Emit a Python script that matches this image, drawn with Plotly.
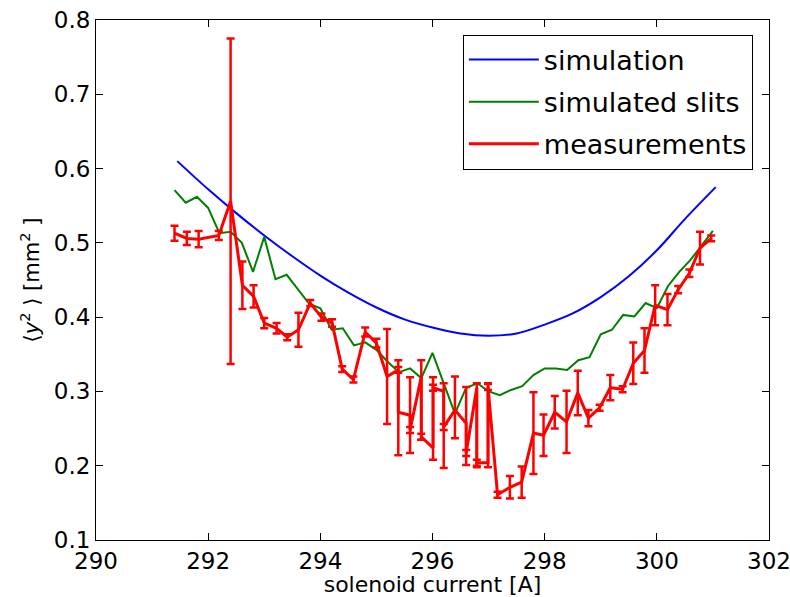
import plotly.graph_objects as go

# simulation curve
sim_x = [291.45, 292.0, 292.5, 293.0, 293.5, 294.0, 294.5, 295.0, 295.5, 296.0,
         296.5, 297.0, 297.5, 298.0, 298.5, 299.0, 299.5, 300.0, 300.5, 301.05]
sim_y = [0.610, 0.572, 0.540, 0.510, 0.482, 0.456, 0.433, 0.413, 0.397, 0.386,
         0.378, 0.375, 0.378, 0.390, 0.405, 0.427, 0.455, 0.490, 0.532, 0.575]

# simulated slits
slit_x = [291.4, 291.6, 291.8, 292.0, 292.2, 292.4, 292.6, 292.8, 293.0, 293.2,
          293.4, 293.6, 293.8, 294.0, 294.2, 294.4, 294.6, 294.8, 295.0, 295.2,
          295.4, 295.6, 295.8, 296.0, 296.2, 296.4, 296.6, 296.8, 297.0, 297.2,
          297.4, 297.6, 297.8, 298.0, 298.2, 298.4, 298.6, 298.8, 299.0, 299.2,
          299.4, 299.6, 299.8, 300.0, 300.2, 300.4, 300.6, 300.8, 301.0]
slit_y = [0.571, 0.554, 0.562, 0.547, 0.513, 0.515, 0.500, 0.461, 0.508, 0.451,
          0.457, 0.438, 0.418, 0.412, 0.383, 0.385, 0.362, 0.366, 0.356, 0.340,
          0.326, 0.331, 0.318, 0.352, 0.311, 0.270, 0.305, 0.311, 0.300, 0.295,
          0.302, 0.307, 0.322, 0.331, 0.331, 0.329, 0.342, 0.346, 0.377, 0.383,
          0.403, 0.401, 0.419, 0.412, 0.442, 0.461, 0.477, 0.497, 0.516]

# measurements
meas_x = [291.40, 291.62, 291.83, 292.19, 292.40, 292.61, 292.81, 293.00, 293.22, 293.41,
          293.61, 293.82, 294.02, 294.21, 294.39, 294.59, 294.80, 295.00, 295.19, 295.39,
          295.39, 295.60, 295.60, 295.80, 295.80, 296.01, 296.01, 296.20, 296.20, 296.40,
          296.60, 296.60, 296.79, 296.79, 296.99, 296.99, 297.16, 297.38, 297.59, 297.80,
          297.98, 298.18, 298.39, 298.59, 298.78, 298.98, 299.17, 299.39, 299.58, 299.78,
          299.97, 300.19, 300.38, 300.58, 300.77, 300.97]
meas_y = [0.513, 0.506, 0.505, 0.510, 0.556, 0.443, 0.428, 0.392, 0.385, 0.373,
          0.383, 0.419, 0.400, 0.392, 0.330, 0.316, 0.380, 0.365, 0.320, 0.329,
          0.272, 0.268, 0.248, 0.320, 0.239, 0.224, 0.305, 0.300, 0.252, 0.275,
          0.257, 0.217, 0.305, 0.204, 0.204, 0.306, 0.161, 0.171, 0.178, 0.244,
          0.241, 0.272, 0.259, 0.298, 0.264, 0.278, 0.305, 0.303, 0.338, 0.355,
          0.416, 0.410, 0.437, 0.459, 0.493, 0.506]
meas_err_hi = [0.010, 0.009, 0.011, 0.006, 0.219, 0.032, 0.015, 0.007, 0.007, 0.004,
               0.023, 0.004, 0.005, 0.005, 0.004, 0.004, 0.006, 0.006, 0.064, 0.004,
               0.070, 0.051, 0.004, 0.022, 0.004, 0.095, 0.004, 0.011, 0.004, 0.045,
               0.049, 0.004, 0.006, 0.004, 0.107, 0.004, 0.004, 0.015, 0.021, 0.055,
               0.028, 0.022, 0.042, 0.030, 0.011, 0.004, 0.017, 0.004, 0.028, 0.030,
               0.027, 0.021, 0.005, 0.005, 0.022, 0.004]
meas_err_lo = [0.010, 0.009, 0.011, 0.006, 0.219, 0.032, 0.015, 0.007, 0.007, 0.004,
               0.023, 0.004, 0.005, 0.005, 0.004, 0.004, 0.006, 0.006, 0.064, 0.004,
               0.058, 0.051, 0.004, 0.085, 0.004, 0.016, 0.004, 0.103, 0.004, 0.038,
               0.056, 0.004, 0.107, 0.004, 0.006, 0.004, 0.004, 0.015, 0.021, 0.055,
               0.028, 0.022, 0.042, 0.030, 0.011, 0.004, 0.017, 0.004, 0.028, 0.030,
               0.027, 0.021, 0.005, 0.005, 0.022, 0.004]

x_ticks = [290, 292, 294, 296, 298, 300, 302]
y_ticks = [0.1, 0.2, 0.3, 0.4, 0.5, 0.6, 0.7, 0.8]

FONT = "DejaVu Sans"

fig = go.Figure()
fig.add_trace(go.Scatter(x=sim_x, y=sim_y, mode="lines", name="simulation",
                         line=dict(color="#0000ff", width=2, shape="spline"),
                         legendgroup="a"))
fig.add_trace(go.Scatter(x=slit_x, y=slit_y, mode="lines", name="simulated slits",
                         line=dict(color="#008000", width=2),
                         legendgroup="b"))
fig.add_trace(go.Scatter(x=meas_x, y=meas_y, mode="lines", name="measurements",
                         line=dict(color="#ff0000", width=3),
                         error_y=dict(type="data", symmetric=False,
                                      array=meas_err_hi, arrayminus=meas_err_lo,
                                      color="#ff0000", thickness=2.5, width=4),
                         legendgroup="c"))

axis_common = dict(showline=True, linecolor="black", linewidth=1, mirror="ticks",
                   ticks="inside", ticklen=7, tickcolor="black", showgrid=False,
                   zeroline=False, ticklabeloverflow="allow",
                   tickfont=dict(family=FONT, size=23, color="black"))

fig.update_layout(
    width=790, height=597,
    margin=dict(l=96, r=21, t=20, b=57, autoexpand=False),
    paper_bgcolor="white", plot_bgcolor="white",
    font=dict(family=FONT, color="black"),
    showlegend=True,
    legend=dict(x=0.976, y=0.972, xanchor="right", yanchor="top",
                bordercolor="black", borderwidth=1, bgcolor="white",
                font=dict(family=FONT, size=27, color="black"),
                traceorder="grouped", tracegroupgap=4, itemwidth=70),
    xaxis=dict(range=[290, 302], tickvals=x_ticks, ticktext=[str(v) for v in x_ticks],
               title=dict(text="solenoid current [A]", font=dict(family=FONT, size=22),
                          standoff=3),
               **axis_common),
    yaxis=dict(range=[0.1, 0.8], tickvals=y_ticks, ticktext=[f"{v:.1f}" for v in y_ticks],
               title=dict(text="⟨<i>y</i><sup>2</sup> ⟩ [mm<sup>2</sup> ]",
                          font=dict(family=FONT, size=21), standoff=8),
               **axis_common),
)

fig.write_html("out.html")
